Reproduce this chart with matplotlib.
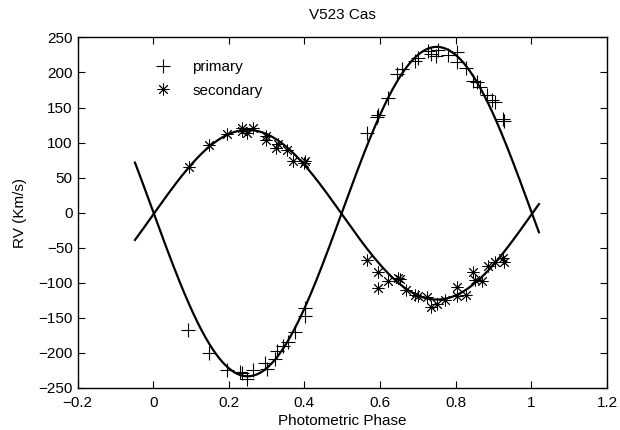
import numpy as np
import matplotlib.pyplot as plt

plt.rcParams['font.family'] = ['Liberation Sans', 'DejaVu Sans']

# primary (plus) radial velocities
phase_p = [0.093, 0.147, 0.194, 0.229, 0.236, 0.247, 0.265, 0.295, 0.300, 0.322,
           0.328, 0.344, 0.357, 0.375, 0.401, 0.401,
           0.566, 0.591, 0.595, 0.622, 0.644, 0.657, 0.692, 0.701, 0.727, 0.736,
           0.748, 0.754, 0.780, 0.803, 0.803, 0.827, 0.847, 0.855, 0.864, 0.882,
           0.895, 0.904, 0.926, 0.928]
rv_p = [-168, -200, -225, -228, -229, -238, -225, -214, -223, -209,
        -197, -190, -185, -171, -148, -136,
        113, 136, 140, 163, 198, 205, 217, 220, 231, 226,
        223, 232, 225, 229, 215, 207, 188, 186, 179, 168,
        160, 158, 134, 131]

# secondary (asterisk) radial velocities
phase_s = [0.094, 0.148, 0.194, 0.234, 0.236, 0.247, 0.265, 0.298, 0.298, 0.331,
           0.326, 0.353, 0.370, 0.401, 0.399,
           0.566, 0.595, 0.595, 0.622, 0.648, 0.654, 0.669, 0.692, 0.701, 0.723,
           0.736, 0.750, 0.772, 0.803, 0.803, 0.827, 0.847, 0.851, 0.869, 0.886,
           0.904, 0.926, 0.928]
rv_s = [65, 96, 112, 121, 117, 113, 121, 109, 103, 98,
        92, 89, 74, 74, 71,
        -68, -85, -107, -97, -93, -94, -111, -117, -119, -120,
        -134, -131, -124, -106, -119, -118, -84, -96, -97, -76,
        -71, -65, -70]

# orbital solution (systemic velocity and semi-amplitudes, km/s)
gamma_p, k_p = 1.5, 235.0
gamma_s, k_s = -3.0, 121.0
phase_range = (-0.048, 1.02)

x_ticks = [-0.2, 0, 0.2, 0.4, 0.6, 0.8, 1, 1.2]
x_labels = ['\u22120.2', '0', '0.2', '0.4', '0.6', '0.8', '1', '1.2']
y_ticks = list(range(-250, 251, 50))

fs = 11

fig = plt.figure(figsize=(6.2, 4.3), dpi=100)
ax = fig.add_axes([0.125, 0.098, 0.854, 0.815])

ph = np.linspace(phase_range[0], phase_range[1], 400)
ax.plot(ph, gamma_p - k_p * np.sin(2 * np.pi * ph), color='black', lw=1.6)
ax.plot(ph, gamma_s + k_s * np.sin(2 * np.pi * ph), color='black', lw=1.6)

ax.plot(phase_p, rv_p, linestyle='none', marker='+', markersize=9.5,
        mew=0.8, color='black', label='primary')
ax.plot(phase_s, rv_s, linestyle='none', marker=(8, 2, 0), markersize=8.5,
        mew=0.65, color='black', label='secondary')

ax.set_xlim(-0.2, 1.2)
ax.set_ylim(-250, 250)
ax.set_xticks(x_ticks)
ax.set_xticklabels(x_labels)
ax.set_yticks(y_ticks)
ax.tick_params(direction='in', top=True, right=True, length=5, width=0.8,
               labelsize=fs)
ax.tick_params(axis='x', pad=6)
ax.tick_params(axis='y', pad=3.5)
for s in ax.spines.values():
    s.set_linewidth(1.0)

ax.set_title('V523 Cas', fontsize=fs, pad=13)
ax.set_xlabel('Photometric Phase', fontsize=fs, labelpad=2.5)
ax.set_ylabel('RV (Km/s)', fontsize=fs, labelpad=8)

ax.legend(loc='upper left', bbox_to_anchor=(0.140, 0.935), frameon=False,
          fontsize=fs, borderpad=0, borderaxespad=0, handlelength=1.5,
          handletextpad=1.17, labelspacing=0.63)

fig.savefig('out.png', dpi=100)
